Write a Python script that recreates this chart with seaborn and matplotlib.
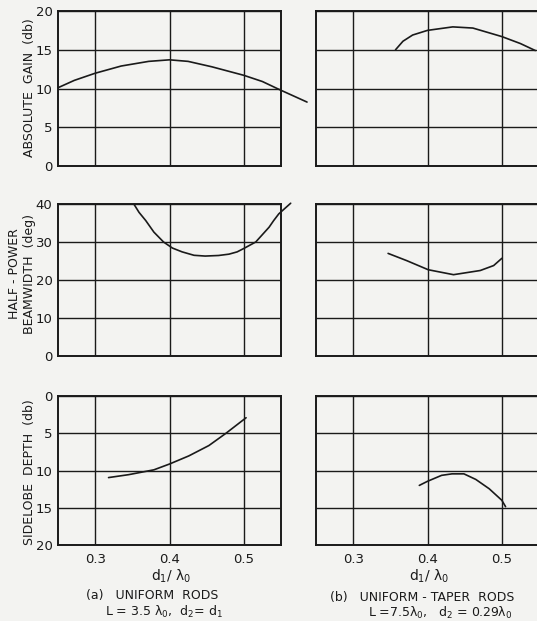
import numpy as np
import pandas as pd
import seaborn as sns
import matplotlib.pyplot as plt

# values (x is d1/lambda0)
# (a) uniform rods
gain_a_x = [0.25, 0.272, 0.30, 0.335, 0.372, 0.40, 0.425, 0.457, 0.50, 0.525, 0.547, 0.585]
gain_a_y = [10.1, 11.05, 11.97, 12.9, 13.5, 13.7, 13.5, 12.8, 11.7, 10.9, 9.9, 8.25]

beam_a_x = [0.352, 0.359, 0.368, 0.379, 0.392, 0.404, 0.417, 0.433, 0.448, 0.466,
            0.480, 0.491, 0.50, 0.516, 0.534, 0.540, 0.547, 0.563]
beam_a_y = [40.0, 37.8, 35.65, 32.6, 30.0, 28.4, 27.4, 26.5, 26.3, 26.45,
            26.8, 27.4, 28.3, 30.0, 33.9, 35.6, 37.4, 40.2]

side_a_x = [0.318, 0.345, 0.379, 0.40, 0.426, 0.453, 0.476, 0.503]
side_a_y = [10.95, 10.56, 9.91, 9.13, 8.04, 6.65, 5.0, 2.92]

# (b) uniform-taper rods
gain_b_x = [0.357, 0.367, 0.380, 0.40, 0.434, 0.461, 0.50, 0.525, 0.545]
gain_b_y = [15.0, 16.1, 16.9, 17.5, 17.95, 17.8, 16.7, 15.8, 14.9]

beam_b_x = [0.347, 0.372, 0.401, 0.435, 0.471, 0.489, 0.50]
beam_b_y = [27.0, 25.1, 22.7, 21.4, 22.5, 23.8, 25.7]

side_b_x = [0.389, 0.40, 0.419, 0.433, 0.449, 0.465, 0.483, 0.50, 0.505]
side_b_y = [12.0, 11.45, 10.65, 10.45, 10.45, 11.2, 12.45, 14.0, 14.85]

x_ticks = [0.3, 0.4, 0.5]
db_ticks = [0, 5, 10, 15, 20]
deg_ticks = [0, 10, 20, 30, 40]

sns.set_style("white")
plt.rcParams['font.family'] = ['DejaVu Sans']

ink = '#1a1a1a'
paper = '#f3f3f1'

fig = plt.figure(figsize=(5.37, 6.21), dpi=100, facecolor=paper)

W, H = 537.0, 621.0
col_left = [58, 316]
rows = [(11, 166), (204, 356), (396, 545)]

def make_ax(col, row):
    x0 = col_left[col]
    top, bot = rows[row]
    return fig.add_axes([x0 / W, 1 - bot / H, 223 / W, (bot - top) / H])

def style(ax, yticks, ylim, show_x, show_y):
    ax.set_facecolor(paper)
    ax.set_xlim(0.25, 0.55)
    ax.set_ylim(*ylim)
    ax.set_xticks(x_ticks)
    ax.set_yticks(yticks)
    ax.grid(True, color=ink, lw=1.0)
    ax.tick_params(length=0, colors=ink, labelsize=9.5, pad=4)
    ax.tick_params(axis='x', pad=6)
    ax.tick_params(labelbottom=show_x, labelleft=show_y)
    ax.set_xticklabels(['0.3', '0.4', '0.5'])
    ax.set_yticklabels([str(t) for t in yticks])
    for s in ax.spines.values():
        s.set_color(ink)
        s.set_linewidth(1.4)
    ax.set_xlabel('')
    ax.set_ylabel('')

def curve(ax, xs, ys):
    df = pd.DataFrame({'x': xs, 'y': ys})
    sns.lineplot(data=df, x='x', y='y', ax=ax, color=ink, lw=1.2, sort=False, estimator=None)
    ax.lines[-1].set_clip_on(False)

panels = [
    (0, 0, gain_a_x, gain_a_y, db_ticks, (0, 20)),
    (0, 1, beam_a_x, beam_a_y, deg_ticks, (0, 40)),
    (0, 2, side_a_x, side_a_y, db_ticks, (20, 0)),
    (1, 0, gain_b_x, gain_b_y, db_ticks, (0, 20)),
    (1, 1, beam_b_x, beam_b_y, deg_ticks, (0, 40)),
    (1, 2, side_b_x, side_b_y, db_ticks, (20, 0)),
]

for col, row, xs, ys, yt, yl in panels:
    ax = make_ax(col, row)
    curve(ax, xs, ys)
    style(ax, yt, yl, show_x=(row == 2), show_y=(col == 0))

# y axis titles
lab = dict(rotation=90, ha='center', va='center', color=ink, fontsize=9)
fig.text(30 / W, 1 - 88 / H, 'ABSOLUTE  GAIN  (db)', **lab)
fig.text(22 / W, 1 - 274 / H, 'HALF - POWER\nBEAMWIDTH  (deg)', linespacing=1.1, **lab)
fig.text(30 / W, 1 - 472 / H, 'SIDELOBE  DEPTH  (db)', **lab)

# x labels and captions
txt = dict(ha='center', va='center', color=ink)
fig.text(171 / W, 1 - 576 / H, 'd$_1$/ λ$_0$', fontsize=10, **txt)
fig.text(429 / W, 1 - 576 / H, 'd$_1$/ λ$_0$', fontsize=10, **txt)
fig.text(152 / W, 1 - 595 / H, '(a)   UNIFORM  RODS', fontsize=9, **txt)
fig.text(164 / W, 1 - 612 / H, 'L = 3.5 λ$_0$,  d$_2$= d$_1$', fontsize=9, **txt)
fig.text(422 / W, 1 - 597 / H, '(b)   UNIFORM - TAPER  RODS', fontsize=9, **txt)
fig.text(440 / W, 1 - 613 / H, 'L =7.5λ$_0$,   d$_2$ = 0.29λ$_0$', fontsize=9, **txt)

fig.savefig('out.png', dpi=100, facecolor=paper)
